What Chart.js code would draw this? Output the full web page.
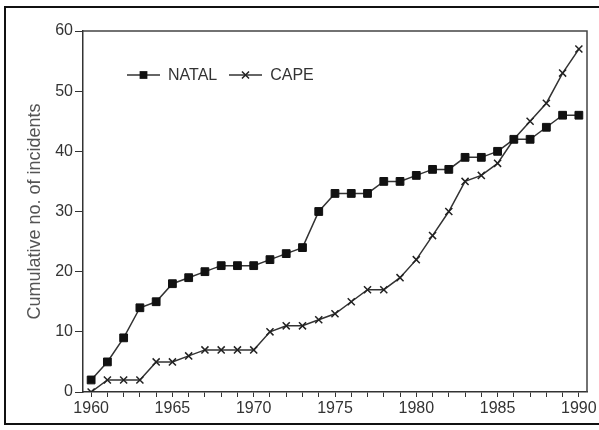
<!DOCTYPE html>
<html>
<head>
<meta charset="utf-8">
<script src="https://cdn.jsdelivr.net/npm/chart.js@4"></script>
<style>
  body { margin: 0; background: #fff; }
  #wrap { position: relative; width: 599px; height: 430px; overflow: hidden; }
  #frame { position: absolute; left: 4px; top: 6px; width: 600px; height: 415px; border: 2px solid #111; border-right: none; pointer-events: none; }
  #legend { position: absolute; left: 127px; top: 66px; display: flex; align-items: center; font: 16px "Liberation Sans", Arial, sans-serif; color: #333; line-height: 18px; }
  #legend .item { display: flex; align-items: center; margin-right: 12px; }
  #legend canvas { margin-right: 8px; }
</style>
</head>
<body>
<div id="wrap">
  <canvas id="chart" width="599" height="430"></canvas>
  <div id="legend"></div>
  <div id="frame"></div>
</div>
<script>
const years = [1960, 1961, 1962, 1963, 1964, 1965, 1966, 1967, 1968, 1969,
               1970, 1971, 1972, 1973, 1974, 1975, 1976, 1977, 1978, 1979,
               1980, 1981, 1982, 1983, 1984, 1985, 1986, 1987, 1988, 1989, 1990];
const natal = [2, 5, 9, 14, 15, 18, 19, 20, 21, 21,
               21, 22, 23, 24, 30, 33, 33, 33, 35, 35,
               36, 37, 37, 39, 39, 40, 42, 42, 44, 46, 46];
const cape = [0, 2, 2, 2, 5, 5, 6, 7, 7, 7,
              7, 10, 11, 11, 12, 13, 15, 17, 17, 19,
              22, 26, 30, 35, 36, 38, 42, 45, 48, 53, 57];
const xTickLabels = ['1960', '1965', '1970', '1975', '1980', '1985', '1990'];
const yTickStep = 10;

const lineColor = '#333';
const fontFamily = '"Liberation Sans", Arial, sans-serif';

// top and right edges of the plot box
const plotBox = {
    id: 'plotBox',
    beforeDatasetsDraw(chart) {
        const {ctx, chartArea: a} = chart;
        ctx.save();
        ctx.strokeStyle = '#444';
        ctx.lineWidth = 1.5;
        ctx.beginPath();
        ctx.moveTo(a.left, a.top);
        ctx.lineTo(a.right, a.top);
        ctx.lineTo(a.right, a.bottom);
        ctx.stroke();
        ctx.restore();
    }
};

const ctx = document.getElementById('chart').getContext('2d');
const chart = new Chart(ctx, {
    type: 'line',
    data: {
        labels: years.map(String),
        datasets: [
            {
                label: 'NATAL',
                data: natal,
                borderColor: lineColor,
                borderWidth: 1.5,
                pointStyle: 'rect',
                pointRadius: 5.5,
                pointBackgroundColor: '#111',
                pointBorderColor: '#111',
                pointBorderWidth: 1,
                tension: 0
            },
            {
                label: 'CAPE',
                data: cape,
                borderColor: lineColor,
                borderWidth: 1.5,
                pointStyle: 'crossRot',
                pointRadius: 5,
                pointBorderColor: '#222',
                pointBorderWidth: 1.5,
                tension: 0
            }
        ]
    },
    options: {
        responsive: false,
        animation: false,
        devicePixelRatio: 1,
        layout: {padding: {left: 12, top: 31, right: 12, bottom: 0}},
        plugins: {
            legend: {display: false},
            tooltip: {enabled: false}
        },
        scales: {
            x: {
                type: 'category',
                offset: true,
                afterFit(scale) { scale.height = 38; },
                border: {display: true, color: lineColor, width: 1.5},
                grid: {display: true, drawOnChartArea: false, drawTicks: true, tickLength: 5, offset: false, color: lineColor},
                ticks: {
                    autoSkip: false,
                    maxRotation: 0,
                    padding: 2,
                    color: '#333',
                    font: {family: fontFamily, size: 16},
                    callback(value, index) {
                        const lab = String(years[index]);
                        return xTickLabels.includes(lab) ? lab : '';
                    }
                }
            },
            y: {
                min: 0,
                max: 60,
                afterFit(scale) { scale.width = 71; },
                border: {display: true, color: lineColor, width: 1.5},
                grid: {display: true, drawOnChartArea: false, drawTicks: true, tickLength: 8, color: lineColor},
                ticks: {
                    stepSize: yTickStep,
                    padding: 2,
                    color: '#333',
                    font: {family: fontFamily, size: 16}
                },
                title: {
                    display: true,
                    text: 'Cumulative no. of incidents',
                    color: '#555',
                    padding: {top: 12, bottom: 0},
                    font: {family: fontFamily, size: 18}
                }
            }
        }
    },
    plugins: [plotBox]
});

// legend: line sample with the dataset's marker, then its label
function markerCanvas(ds) {
    const c = document.createElement('canvas');
    c.width = 33;
    c.height = 12;
    const g = c.getContext('2d');
    g.strokeStyle = ds.borderColor;
    g.lineWidth = ds.borderWidth;
    g.beginPath();
    g.moveTo(0, 6);
    g.lineTo(33, 6);
    g.stroke();
    g.fillStyle = ds.pointBackgroundColor || ds.pointBorderColor;
    g.strokeStyle = ds.pointBorderColor;
    g.lineWidth = ds.pointBorderWidth;
    g.beginPath();
    if (ds.pointStyle === 'rect') {
        const s = Math.SQRT1_2 * ds.pointRadius;
        g.rect(16.5 - s, 6 - s, 2 * s, 2 * s);
        g.fill();
    } else {
        const r = ds.pointRadius * Math.SQRT1_2;
        g.moveTo(16.5 - r, 6 - r); g.lineTo(16.5 + r, 6 + r);
        g.moveTo(16.5 - r, 6 + r); g.lineTo(16.5 + r, 6 - r);
        g.stroke();
    }
    return c;
}

const legendEl = document.getElementById('legend');
chart.data.datasets.forEach((ds) => {
    const item = document.createElement('span');
    item.className = 'item';
    item.appendChild(markerCanvas(ds));
    const txt = document.createElement('span');
    txt.textContent = ds.label;
    item.appendChild(txt);
    legendEl.appendChild(item);
});
</script>
</body>
</html>
